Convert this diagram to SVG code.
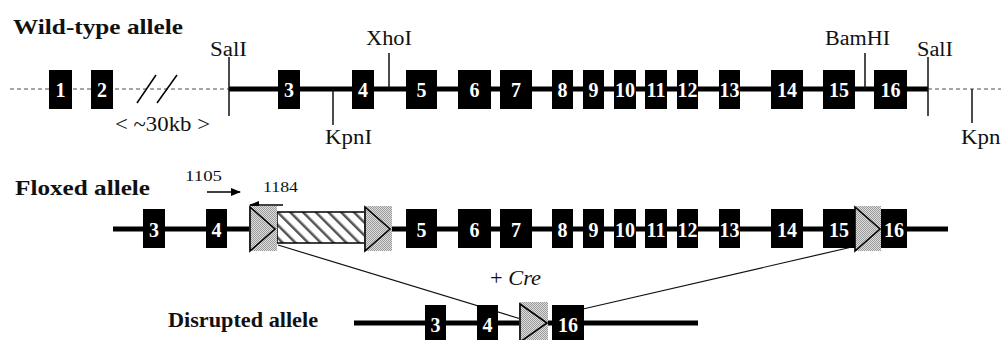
<svg xmlns="http://www.w3.org/2000/svg" width="1001" height="340" viewBox="0 0 1001 340">
<style>
.ex{fill:#000}
.num{font-family:"Liberation Serif","Times New Roman",Times,serif;font-weight:bold;font-size:20px;fill:#fff;text-anchor:middle}
.lbl{font-family:"Liberation Serif","Times New Roman",Times,serif;font-size:20px;fill:#111}
.title{font-family:"Liberation Serif","Times New Roman",Times,serif;font-weight:bold;font-size:21px;fill:#111}
.small{font-family:"Liberation Serif","Times New Roman",Times,serif;font-size:15px;fill:#111}
.bb{stroke:#000;stroke-width:5;fill:none}
.dash{stroke:#8a8a8a;stroke-width:1.5;stroke-dasharray:4 3;fill:none}
.site{stroke:#111;stroke-width:1.5;fill:none}
.cross{stroke:#111;stroke-width:1.2;fill:none}
.lox{fill:url(#stip)}
.tri{fill:url(#stip);stroke:#000;stroke-width:1.6;stroke-linejoin:miter}
</style>
<defs>
<pattern id="stip" patternUnits="userSpaceOnUse" width="2" height="2">
<rect width="2" height="2" fill="#dedede"/>
<rect width="1" height="1" fill="#9a9a9a"/>
<rect x="1" y="1" width="1" height="1" fill="#9a9a9a"/>
</pattern>
<pattern id="hatch" patternUnits="userSpaceOnUse" width="9" height="9" patternTransform="rotate(-45)">
<rect width="9" height="9" fill="#fff"/>
<rect width="2.5" height="9" fill="#555"/>
</pattern>
<marker id="ah" markerWidth="10" markerHeight="10" refX="9" refY="5" orient="auto" markerUnits="userSpaceOnUse">
<path d="M0,1 L10,5 L0,9 Z" fill="#000"/>
</marker>
</defs>

<rect width="1001" height="340" fill="#fff"/>

<g id="connectors">
<line class="dash" x1="10" y1="89" x2="229" y2="89"/>
<line class="bb" x1="229" y1="89" x2="928" y2="89"/>
<line class="dash" x1="928" y1="89" x2="1001" y2="89"/>
<line class="bb" x1="113" y1="229" x2="250" y2="229"/>
<line class="bb" x1="390" y1="229" x2="948" y2="229"/>
<line class="bb" x1="354" y1="323" x2="698" y2="323"/>
<line class="cross" x1="278" y1="245" x2="521" y2="319"/>
<line class="cross" x1="852" y1="247" x2="583" y2="309"/>
<line class="site" x1="229" y1="57" x2="229" y2="116"/>
<line class="site" x1="333" y1="89" x2="333" y2="125"/>
<line class="site" x1="389" y1="53" x2="389" y2="89"/>
<line class="site" x1="865" y1="53" x2="865" y2="89"/>
<line class="site" x1="928" y1="57" x2="928" y2="116"/>
<line class="site" x1="972" y1="89" x2="972" y2="123"/>
<line stroke="#000" stroke-width="1.5" x1="137" y1="103" x2="156" y2="75"/>
<line stroke="#000" stroke-width="1.5" x1="157" y1="103" x2="177" y2="75"/>
<line stroke="#000" stroke-width="1.3" x1="207" y1="192" x2="240" y2="192" marker-end="url(#ah)"/>
<line stroke="#000" stroke-width="1.3" x1="283" y1="205" x2="250" y2="205" marker-end="url(#ah)"/>
</g>

<g id="labels">
<text class="title" x="13" y="34" textLength="170" lengthAdjust="spacingAndGlyphs">Wild-type allele</text>
<text class="title" x="15" y="195" textLength="135" lengthAdjust="spacingAndGlyphs">Floxed allele</text>
<text class="title" x="168" y="327" textLength="150" lengthAdjust="spacingAndGlyphs">Disrupted allele</text>
<text class="lbl" x="210" y="56" textLength="37" lengthAdjust="spacingAndGlyphs">SalI</text>
<text class="lbl" x="366" y="45" textLength="46" lengthAdjust="spacingAndGlyphs">XhoI</text>
<text class="lbl" x="825" y="45" textLength="65" lengthAdjust="spacingAndGlyphs">BamHI</text>
<text class="lbl" x="917" y="56" textLength="36" lengthAdjust="spacingAndGlyphs">SalI</text>
<text class="lbl" x="325" y="144" textLength="47" lengthAdjust="spacingAndGlyphs">KpnI</text>
<text class="lbl" x="961" y="144" textLength="47" lengthAdjust="spacingAndGlyphs">KpnI</text>
<text class="lbl" x="115" y="131" textLength="95" lengthAdjust="spacingAndGlyphs">&lt; ~30kb &gt;</text>
<text class="small" x="185" y="181" textLength="37" lengthAdjust="spacingAndGlyphs">1105</text>
<text class="small" x="263" y="192" textLength="35" lengthAdjust="spacingAndGlyphs">1184</text>
<text class="lbl" x="490" y="285" textLength="51" lengthAdjust="spacingAndGlyphs">+ <tspan font-style="italic">Cre</tspan></text>
</g>

<g id="wildtype">
<g id="wt-e1"><rect class="ex" x="49" y="70" width="23" height="39"/><text class="num" x="60.5" y="97">1</text></g>
<g id="wt-e2"><rect class="ex" x="91" y="70" width="22" height="39"/><text class="num" x="102" y="97">2</text></g>
<g id="wt-e3"><rect class="ex" x="278" y="70" width="22" height="39"/><text class="num" x="289" y="97">3</text></g>
<g id="wt-e4"><rect class="ex" x="352" y="70" width="22" height="39"/><text class="num" x="363" y="97">4</text></g>
<g id="wt-e5"><rect class="ex" x="406" y="70" width="31" height="39"/><text class="num" x="421.5" y="97">5</text></g>
<g id="wt-e6"><rect class="ex" x="458" y="70" width="33" height="39"/><text class="num" x="474.5" y="97">6</text></g>
<g id="wt-e7"><rect class="ex" x="500" y="70" width="32" height="39"/><text class="num" x="516" y="97">7</text></g>
<g id="wt-e8"><rect class="ex" x="552" y="70" width="21" height="39"/><text class="num" x="562.5" y="97">8</text></g>
<g id="wt-e9"><rect class="ex" x="583" y="70" width="21" height="39"/><text class="num" x="593.5" y="97">9</text></g>
<g id="wt-e10"><rect class="ex" x="614" y="70" width="22" height="39"/><text class="num" x="625" y="97">10</text></g>
<g id="wt-e11"><rect class="ex" x="645" y="70" width="22" height="39"/><text class="num" x="656" y="97">11</text></g>
<g id="wt-e12"><rect class="ex" x="677" y="70" width="21" height="39"/><text class="num" x="687.5" y="97">12</text></g>
<g id="wt-e13"><rect class="ex" x="719" y="70" width="21" height="39"/><text class="num" x="729.5" y="97">13</text></g>
<g id="wt-e14"><rect class="ex" x="771" y="70" width="32" height="39"/><text class="num" x="787" y="97">14</text></g>
<g id="wt-e15"><rect class="ex" x="823" y="70" width="32" height="39"/><text class="num" x="839" y="97">15</text></g>
<g id="wt-e16"><rect class="ex" x="874" y="70" width="33" height="39"/><text class="num" x="890.5" y="97">16</text></g>
</g>

<g id="floxed">
<g id="fl-e3"><rect class="ex" x="143" y="209" width="22" height="39"/><text class="num" x="154" y="237">3</text></g>
<g id="fl-e4"><rect class="ex" x="206" y="209" width="21" height="39"/><text class="num" x="216.5" y="237">4</text></g>
<g id="fl-neo"><rect x="277" y="212" width="88" height="31" fill="url(#hatch)" stroke="#000" stroke-width="1.5"/></g>
<g id="fl-lox1"><rect class="lox" x="249" y="206" width="28" height="45"/><path class="tri" d="M250,207 L275,229 L250,251 Z"/></g>
<g id="fl-lox2"><rect class="lox" x="364" y="206" width="28" height="45"/><path class="tri" d="M365,207 L390,229 L365,251 Z"/></g>
<g id="fl-e5"><rect class="ex" x="406" y="209" width="31" height="39"/><text class="num" x="421.5" y="237">5</text></g>
<g id="fl-e6"><rect class="ex" x="458" y="209" width="33" height="39"/><text class="num" x="474.5" y="237">6</text></g>
<g id="fl-e7"><rect class="ex" x="500" y="209" width="32" height="39"/><text class="num" x="516" y="237">7</text></g>
<g id="fl-e8"><rect class="ex" x="552" y="209" width="21" height="39"/><text class="num" x="562.5" y="237">8</text></g>
<g id="fl-e9"><rect class="ex" x="583" y="209" width="21" height="39"/><text class="num" x="593.5" y="237">9</text></g>
<g id="fl-e10"><rect class="ex" x="614" y="209" width="22" height="39"/><text class="num" x="625" y="237">10</text></g>
<g id="fl-e11"><rect class="ex" x="645" y="209" width="22" height="39"/><text class="num" x="656" y="237">11</text></g>
<g id="fl-e12"><rect class="ex" x="677" y="209" width="21" height="39"/><text class="num" x="687.5" y="237">12</text></g>
<g id="fl-e13"><rect class="ex" x="719" y="209" width="21" height="39"/><text class="num" x="729.5" y="237">13</text></g>
<g id="fl-e14"><rect class="ex" x="771" y="209" width="32" height="39"/><text class="num" x="787" y="237">14</text></g>
<g id="fl-e15"><rect class="ex" x="823" y="209" width="32" height="39"/><text class="num" x="839" y="237">15</text></g>
<g id="fl-lox3"><rect class="lox" x="855" y="206" width="26" height="45"/><path class="tri" d="M855,207 L880,229 L855,251 Z"/></g>
<g id="fl-e16"><rect class="ex" x="881" y="209" width="26" height="39"/><text class="num" x="894" y="237">16</text></g>
</g>

<g id="disrupted">
<g id="di-e3"><rect class="ex" x="425" y="305" width="21" height="40"/><text class="num" x="435.5" y="332">3</text></g>
<g id="di-e4"><rect class="ex" x="477" y="305" width="21" height="40"/><text class="num" x="487.5" y="332">4</text></g>
<g id="di-lox"><rect class="lox" x="519" y="302" width="29" height="45"/><path class="tri" d="M520,304 L547,323 L520,342 Z"/></g>
<g id="di-e16"><rect class="ex" x="552" y="305" width="32" height="40"/><text class="num" x="568" y="332">16</text></g>
</g>
</svg>
